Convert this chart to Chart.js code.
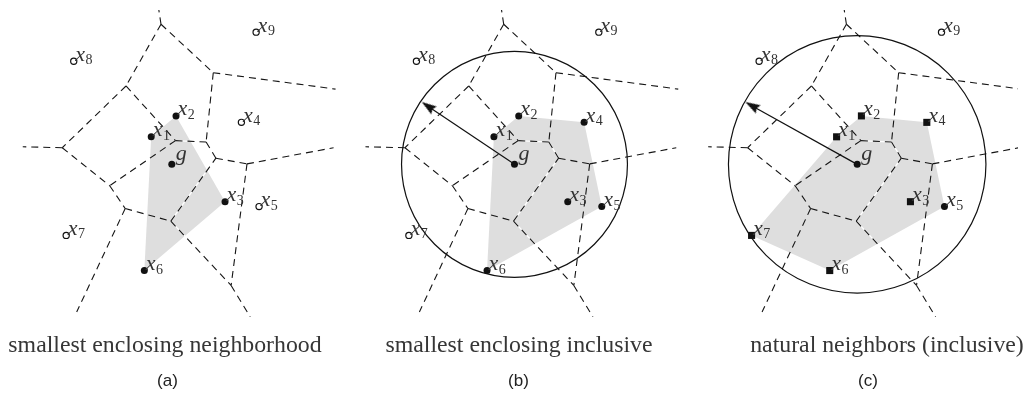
<!DOCTYPE html>
<html lang="en">
<head>
<meta charset="UTF-8">
<title>Enclosing neighborhoods</title>
<style>
    body {
        margin: 0;
        background: #fff;
    }

    #wrap {
        position: relative;
        width: 1028px;
        height: 399px;
        overflow: hidden;
    }

    #chart {
        position: absolute;
        left: 0;
        top: 0;
    }

    .cap {
        position: absolute;
        top: 333px;
        width: 400px;
        text-align: center;
        white-space: nowrap;
        font-family: "Liberation Serif", serif;
        font-size: 23.8px;
        line-height: 1;
        color: #363636;
    }

    .tag {
        position: absolute;
        top: 372px;
        width: 60px;
        text-align: center;
        font-family: "Liberation Sans", Arial, sans-serif;
        font-size: 17px;
        line-height: 1;
        color: #222;
    }
</style>
</head>
<body>
<div id="wrap">
    <canvas id="chart" width="1028" height="399"></canvas>
</div>
<script src="https://cdn.jsdelivr.net/npm/chart.js"></script>
<script>
    // sites, in the frame of panel (a)
    const siteNames = ['g', 'x1', 'x2', 'x3', 'x4', 'x5', 'x6', 'x7', 'x8', 'x9'];
    const siteX = [165, 144, 169.3, 219.3, 236, 254, 137, 57.3, 65, 251];
    const siteY = [162.5, 133.5, 111.5, 201.8, 118.3, 207, 274.3, 237.3, 54, 23.3];

    // voronoi vertices and loose ends
    const vertexNames = ['A', 'B', 'C', 'D', 'E', 'F', 'G', 'H', 'I', 'J', 'K', 'L',
                         'Aend', 'Cend', 'Eend', 'Hend', 'Kend', 'Lend'];
    const vertexX = [154, 118.3, 207.3, 200, 53.3, 168.8, 101.7, 117.5, 164, 210, 241.7, 225.5,
                     151.5, 332, 13, 68, 330, 245];
    const vertexY = [15, 80, 66, 139, 145, 137.5, 185, 209, 222.3, 156, 162, 290,
                     -2, 83.3, 144, 318, 145, 323];

    const edges = [
        ['A', 'Aend'], ['A', 'B'], ['A', 'C'], ['C', 'Cend'], ['C', 'D'],
        ['B', 'E'], ['B', 'F'], ['E', 'Eend'], ['E', 'G'], ['F', 'D'], ['F', 'G'],
        ['G', 'H'], ['H', 'I'], ['H', 'Hend'], ['I', 'J'], ['I', 'L'], ['D', 'J'],
        ['J', 'K'], ['K', 'Kend'], ['K', 'L'], ['L', 'Lend']
    ];
    const whiteEdges = [['F', 'D'], ['D', 'J'], ['J', 'I'], ['I', 'L']];

    // per panel
    const panelOffset = [0, 349.5, 699];
    const hulls = [
        ['x1', 'x2', 'x3', 'x6'],
        ['x1', 'x2', 'x4', 'x5', 'x6'],
        ['x1', 'x2', 'x4', 'x5', 'x6', 'x7']
    ];
    const filledSites = [
        ['g', 'x1', 'x2', 'x3', 'x6'],
        ['g', 'x1', 'x2', 'x3', 'x4', 'x5', 'x6'],
        ['g', 'x5']
    ];
    const openSites = [
        ['x4', 'x5', 'x7', 'x8', 'x9'],
        ['x7', 'x8', 'x9'],
        ['x8', 'x9']
    ];
    const squareSites = [
        [],
        [],
        ['x1', 'x2', 'x3', 'x4', 'x6', 'x7']
    ];
    const circleRadius = [0, 115.2, 131.3];
    const arrowTipX = [null, 70.5, 51];
    const arrowTipY = [null, 97, 97];

    const captions = ['smallest enclosing neighborhood', 'smallest enclosing inclusive', 'natural neighbors (inclusive)'];
    const tags = ['(a)', '(b)', '(c)'];
    const captionCenter = [165, 519, 887];
    const tagCenter = [167.5, 518.5, 868];

    function site(name, off) {
        const i = siteNames.indexOf(name);
        return { x: siteX[i] + off, y: siteY[i] };
    }

    function vert(name, off) {
        const i = vertexNames.indexOf(name);
        return { x: vertexX[i] + off, y: vertexY[i] };
    }

    function lineSet(points, color, width, dash) {
        return {
            data: points,
            showLine: true,
            borderColor: color,
            borderWidth: width,
            borderDash: dash,
            pointRadius: 0,
            fill: false
        };
    }

    // slender arrowhead, apex at the top, used as a point style
    const headImg = document.createElement('canvas');
    headImg.width = 18;
    headImg.height = 18;
    (function () {
        const c = headImg.getContext('2d');
        c.fillStyle = '#111';
        c.beginPath();
        c.moveTo(9, 1);
        c.lineTo(13.8, 16);
        c.lineTo(9, 14);
        c.lineTo(4.2, 16);
        c.closePath();
        c.fill();
    })();
    const headBack = 8;   // apex to image centre

    // listed bottom layer first; reversed below since Chart.js paints the last dataset first
    const datasets = [];

    panelOffset.forEach((off, p) => {
        const hull = hulls[p].map(n => site(n, off));
        hull.push(hull[0]);
        datasets.push({
            data: hull,
            showLine: true,
            fill: 'shape',
            backgroundColor: '#dedede',
            borderColor: 'rgba(0,0,0,0)',
            borderWidth: 0,
            pointRadius: 0
        });
    });

    panelOffset.forEach(off => {
        whiteEdges.forEach(e => datasets.push(lineSet([vert(e[0], off), vert(e[1], off)], '#ffffff', 1.3, [])));
    });

    panelOffset.forEach(off => {
        edges.forEach(e => datasets.push(lineSet([vert(e[0], off), vert(e[1], off)], '#151515', 1.1, [7, 5])));
    });

    panelOffset.forEach((off, p) => {
        if (!circleRadius[p]) return;
        const R = circleRadius[p];
        const g = site('g', off);
        datasets.push({
            data: [g],
            pointStyle: 'circle',
            pointRadius: ctx => {
                const xs = ctx.chart.scales.x;
                return xs.getPixelForValue(R) - xs.getPixelForValue(0);
            },
            pointBackgroundColor: 'rgba(0,0,0,0)',
            pointBorderColor: '#111',
            pointBorderWidth: 1.2
        });

        // radius arrow
        const tip = { x: arrowTipX[p] + off, y: arrowTipY[p] };
        const dx = tip.x - g.x, dy = tip.y - g.y;
        const len = Math.sqrt(dx * dx + dy * dy);
        const mid = { x: tip.x - dx / len * headBack, y: tip.y - dy / len * headBack };
        datasets.push(lineSet([g, mid], '#111', 1.2, []));
        datasets.push({
            data: [mid],
            pointStyle: headImg,
            pointRadius: 9,
            pointRotation: Math.atan2(dx, -dy) * 180 / Math.PI
        });
    });

    panelOffset.forEach((off, p) => {
        datasets.push({
            data: openSites[p].map(n => site(n, off)),
            pointStyle: 'circle',
            pointRadius: 3.1,
            pointBackgroundColor: '#fff',
            pointBorderColor: '#111',
            pointBorderWidth: 1.2
        });
        datasets.push({
            data: filledSites[p].map(n => site(n, off)),
            pointStyle: 'circle',
            pointRadius: 3.5,
            pointBackgroundColor: '#111',
            pointBorderWidth: 0
        });
        datasets.push({
            data: squareSites[p].map(n => site(n, off)),
            pointStyle: 'rect',
            pointRadius: 5,
            pointBackgroundColor: '#111',
            pointBorderWidth: 0
        });
    });

    datasets.reverse();

    // x_i and g labels next to each site
    const siteLabels = {
        id: 'siteLabels',
        afterDatasetsDraw(chart) {
            const ctx = chart.ctx;
            const xs = chart.scales.x, ys = chart.scales.y;
            ctx.save();
            ctx.fillStyle = '#333';
            ctx.textBaseline = 'alphabetic';
            panelOffset.forEach(off => {
                siteNames.forEach((name, i) => {
                    const px = xs.getPixelForValue(siteX[i] + off);
                    const py = ys.getPixelForValue(siteY[i]);
                    ctx.font = 'italic 22px "Liberation Serif"';
                    if (name === 'g') {
                        ctx.fillText('g', px + 4, py - 4.5);
                        return;
                    }
                    ctx.fillText('x', px + 1.5, py - 0.5);
                    const w = ctx.measureText('x').width;
                    ctx.font = '14px "Liberation Serif"';
                    ctx.fillText(name.slice(1), px + 2 + w, py + 3);
                });
            });
            ctx.restore();
        }
    };

    new Chart(document.getElementById('chart'), {
        type: 'scatter',
        data: { datasets: datasets },
        options: {
            responsive: false,
            animation: false,
            events: [],
            layout: { padding: 0 },
            scales: {
                x: { type: 'linear', min: 0, max: 1028, display: false },
                y: { type: 'linear', min: 0, max: 399, reverse: true, display: false }
            },
            plugins: {
                legend: { display: false },
                tooltip: { enabled: false }
            }
        },
        plugins: [siteLabels]
    });

    const wrap = document.getElementById('wrap');
    captions.forEach((text, i) => {
        const cap = document.createElement('div');
        cap.className = 'cap';
        cap.style.left = (captionCenter[i] - 200) + 'px';
        cap.textContent = text;
        wrap.appendChild(cap);

        const tag = document.createElement('div');
        tag.className = 'tag';
        tag.style.left = (tagCenter[i] - 30) + 'px';
        tag.textContent = tags[i];
        wrap.appendChild(tag);
    });
</script>
</body>
</html>
